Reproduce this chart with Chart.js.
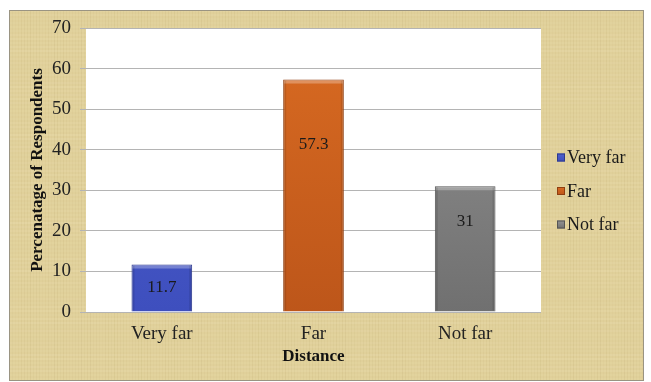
<!DOCTYPE html>
<html>
<head>
<meta charset="utf-8">
<script src="https://cdn.jsdelivr.net/npm/chart.js@4.4.1/dist/chart.umd.min.js"></script>
<style>
  html, body { margin: 0; padding: 0; background: #fff; }
  #wrap { width: 651px; height: 382px; }
</style>
</head>
<body>
<div id="wrap"><canvas id="distChart" width="651" height="382"></canvas></div>
<script>
// data
const categories = ['Very far', 'Far', 'Not far'];
const percentages = [11.7, 57.3, 31];
const yTickValues = [0, 10, 20, 30, 40, 50, 60, 70];

// bar colours: light (top), dark (bottom), edge
const barTop = ['#4f60cc', '#d96b22', '#939393'];
const barBottom = ['#3e4fbe', '#bd561a', '#707070'];
const barEdge = ['#2e3a8c', '#8e3f12', '#555555'];

const serif = '"Liberation Serif", "Times New Roman", serif';

// papyrus-ish background + white plot area
const backdrop = {
  id: 'backdrop',
  beforeDraw(chart) {
    const c = chart.ctx;
    const w = chart.width, h = chart.height;
    c.save();
    c.fillStyle = '#ffffff';
    c.fillRect(0, 0, w, h);
    c.fillStyle = '#e0d09a';
    c.fillRect(9, 10, w - 16, h - 11);
    // woven texture, deterministic stripes
    for (let x = 9; x < w - 7; x += 3) {
      const a = 0.03 + 0.06 * Math.abs(Math.sin(x * 0.37) * Math.cos(x * 0.11));
      c.fillStyle = 'rgba(150, 125, 60,' + a.toFixed(3) + ')';
      c.fillRect(x, 10, 1, h - 11);
    }
    for (let y = 10; y < h - 1; y += 4) {
      const a = 0.05 + 0.08 * Math.abs(Math.sin(y * 0.53) * Math.cos(y * 0.07));
      c.fillStyle = 'rgba(255, 248, 215,' + a.toFixed(3) + ')';
      c.fillRect(9, y, w - 16, 2);
    }
    c.strokeStyle = '#9a9482';
    c.lineWidth = 1;
    c.strokeRect(9.5, 10.5, w - 17, h - 12);
    const a = chart.chartArea;
    c.fillStyle = '#ffffff';
    c.fillRect(a.left, a.top, a.right - a.left, a.bottom - a.top);
    c.restore();
  }
};

// bevel highlight on bar tops, value labels, legend on the right
const overlay = {
  id: 'overlay',
  afterDatasetsDraw(chart) {
    const c = chart.ctx;
    const y = chart.scales.y;
    const meta = chart.getDatasetMeta(0);
    c.save();
    meta.data.forEach((bar, i) => {
      const left = bar.x - bar.width / 2;
      c.fillStyle = 'rgba(255,255,255,0.28)';
      c.fillRect(left + 1, bar.y + 1, bar.width - 2, 3);
      c.fillStyle = 'rgba(0,0,0,0.10)';
      c.fillRect(left + 1, bar.y + 1, 2, bar.base - bar.y - 2);
      c.fillRect(left + bar.width - 3, bar.y + 1, 2, bar.base - bar.y - 2);
    });
    c.font = '17px ' + serif;
    c.fillStyle = '#1a1a1a';
    c.textAlign = 'center';
    c.textBaseline = 'middle';
    meta.data.forEach((bar, i) => {
      const v = percentages[i];
      const py = Math.max(bar.y + 23, y.getPixelForValue(v * 0.72));
      c.fillText(String(v), bar.x, py);
    });

    // legend
    const lx = chart.chartArea.right + 16;
    const cy = chart.height / 2;
    c.font = '18px ' + serif;
    c.textAlign = 'left';
    categories.forEach((name, i) => {
      const ry = cy + (i - 1) * 33.5;
      const g = c.createLinearGradient(0, ry - 4, 0, ry + 4);
      g.addColorStop(0, barTop[i]);
      g.addColorStop(1, barBottom[i]);
      c.fillStyle = g;
      c.fillRect(lx, ry - 4, 8, 8);
      c.strokeStyle = barEdge[i];
      c.lineWidth = 1;
      c.strokeRect(lx + 0.5, ry - 3.5, 7, 7);
      c.fillStyle = '#1a1a1a';
      c.fillText(name, lx + 10, ry + 1);
    });
    c.restore();
  }
};

function barFill(context) {
  const chart = context.chart;
  const area = chart.chartArea;
  const i = context.dataIndex;
  if (!area) return barTop[i];
  const g = chart.ctx.createLinearGradient(0, area.top, 0, area.bottom);
  g.addColorStop(0, barTop[i]);
  g.addColorStop(1, barBottom[i]);
  return g;
}

const distChart = new Chart(document.getElementById('distChart'), {
  type: 'bar',
  data: {
    labels: categories,
    datasets: [{
      data: percentages,
      backgroundColor: barFill,
      borderColor: barEdge,
      borderWidth: 1,
      categoryPercentage: 0.4,
      barPercentage: 1
    }]
  },
  options: {
    responsive: false,
    animation: false,
    layout: { padding: { left: 24, top: 28, right: 110, bottom: 14 } },
    plugins: {
      tooltip: { enabled: false },
      legend: { display: false }
    },
    scales: {
      x: {
        grid: { display: false, drawTicks: false },
        border: { display: false },
        ticks: { font: { family: serif, size: 19 }, color: '#222', padding: 11 },
        title: {
          display: true, text: 'Distance',
          font: { family: serif, size: 17, weight: 'bold' }, color: '#111',
          padding: { top: 0, bottom: 1 }
        },
        afterFit: s => { s.height = 56; }
      },
      y: {
        min: 0, max: 70,
        afterBuildTicks: s => { s.ticks = yTickValues.map(v => ({ value: v })); },
        grid: { color: '#b4b4b4', tickLength: 6, lineWidth: 1 },
        border: { display: false },
        ticks: { font: { family: serif, size: 19 }, color: '#222', padding: 9 },
        title: {
          display: true, text: 'Percenatage of Respondents',
          font: { family: serif, size: 17, weight: 'bold' }, color: '#111',
          padding: { top: 3, bottom: 0 }
        },
        afterFit: s => { s.width = 62; }
      }
    }
  },
  plugins: [backdrop, overlay]
});
</script>
</body>
</html>
